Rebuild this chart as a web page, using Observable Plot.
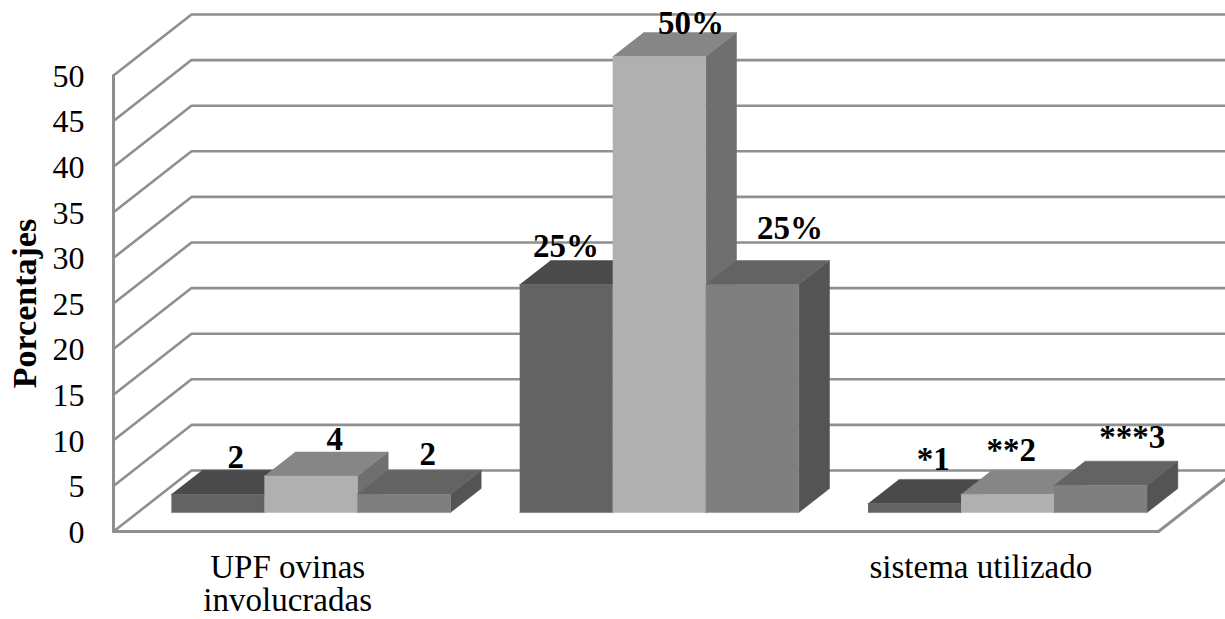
<!DOCTYPE html>
<html lang="es">
<head>
<meta charset="utf-8">
<title>Porcentajes</title>
<script src="https://cdn.jsdelivr.net/npm/d3@7"></script>
<script src="https://cdn.jsdelivr.net/npm/@observablehq/plot@0.6"></script>
<style>
  html, body { margin: 0; padding: 0; background: #fff; overflow: hidden; }
  svg { display: block; }
</style>
</head>
<body>
<div id="chart"></div>
<script>
// Values of the three clusters, one array per series
const serie1 = [2, 25, 1];
const serie2 = [4, 50, 2];
const serie3 = [2, 25, 3];
const etiquetas1 = ["2", "25%", "*1"];
const etiquetas2 = ["4", "50%", "**2"];
const etiquetas3 = ["2", "25%", "***3"];
const categorias = ["UPF ovinas\ninvolucradas", "", "sistema utilizado"];
const centrosCategoria = [0.5, 1.5, 2.49];
const marcasY = [0, 5, 10, 15, 20, 25, 30, 35, 40, 45, 50];

// Shades per series: front, top, side
const tonos = [
  { front: "#636363", top: "#4a4a4a", side: "#545454" },
  { front: "#b0b0b0", top: "#868686", side: "#6f6f6f" },
  { front: "#7f7f7f", top: "#636363", side: "#545454" }
];

// Oblique projection: depth z (0 front, 1 back wall) shifts a point in data units
const pxX = 1045 / 3, pxY = 456 / 50;
const fondoX = 78 / pxX, fondoY = 61 / pxY;
const proj = (x, v, z) => ({ x: x + z * fondoX, y: v + z * fondoY });

// Bar footprint inside a category
const zFrente = 0.31, zAtras = 0.705;
const margenGrupo = 0.0967, anchoBarra = 93 / pxX;

const series = [serie1, serie2, serie3];
const etiquetas = [etiquetas1, etiquetas2, etiquetas3];

// Label nudges in px from the centre of each bar's back top edge, by series then category
const ajusteDx = [[-13, -31, -12], [-7, 1, -27], [-7, 7, 1]];
const ajusteDy = [[-2, -3, -9], [-2, 2, -9], [-5, -21, -13]];

const caras = [];
const rotulos = [];
categorias.forEach((_, g) => {
  series.forEach((valores, s) => {
    const v = valores[g];
    const x0 = g + margenGrupo + s * anchoBarra;
    const x1 = x0 + anchoBarra;
    const tono = tonos[s];
    const id = `${g}-${s}`;
    const cara = (nombre, fill, puntos) =>
      puntos.forEach((p) => caras.push({ id: `${id}-${nombre}`, fill, ...p }));
    cara("side", tono.side, [proj(x1, 0, zFrente), proj(x1, 0, zAtras), proj(x1, v, zAtras), proj(x1, v, zFrente)]);
    cara("top", tono.top, [proj(x0, v, zFrente), proj(x1, v, zFrente), proj(x1, v, zAtras), proj(x0, v, zAtras)]);
    cara("front", tono.front, [proj(x0, 0, zFrente), proj(x1, 0, zFrente), proj(x1, v, zFrente), proj(x0, v, zFrente)]);
    const c = proj((x0 + x1) / 2, v, zAtras);
    rotulos.push({
      x: c.x + ajusteDx[s][g] / pxX,
      y: c.y - ajusteDy[s][g] / pxY,
      text: etiquetas[s][g]
    });
  });
});

// Wall grid: each level runs from the front edge to the back wall, then along it
const rejilla = marcasY.flatMap((v) => [
  { id: v, ...proj(0, v, 0) },
  { id: v, ...proj(0, v, 1) },
  { id: v, ...proj(3, v, 1) }
]);
const contorno = [
  proj(0, 50, 0), proj(0, 0, 0), proj(3, 0, 0), proj(3, 0, 1)
];

const gris = "#8f8f8f";

const grafico = Plot.plot({
  width: 1225,
  height: 619,
  marginLeft: 113,
  marginRight: 67,
  marginTop: 75,
  marginBottom: 88,
  style: { fontFamily: "'Liberation Serif', serif", background: "#fff", color: "#000" },
  x: { domain: [0, 3] },
  y: { domain: [0, 50] },
  marks: [
    Plot.line(rejilla, { x: "x", y: "y", z: "id", stroke: gris, strokeWidth: 2.6 }),
    Plot.line(contorno, { x: "x", y: "y", stroke: gris, strokeWidth: 3 }),
    Plot.line(caras, { x: "x", y: "y", z: "id", fill: "fill", stroke: "fill", strokeWidth: 0.5 }),
    Plot.axisY({ ticks: marcasY, tickSize: 0, tickPadding: 29, fontSize: 32, label: null, dy: 1 }),
    Plot.axisX({
      ticks: centrosCategoria,
      tickFormat: (d) => categorias[Math.floor(d)],
      tickSize: 0,
      tickPadding: 23,
      fontSize: 33,
      lineHeight: 1,
      label: null
    }),
    Plot.text(rotulos, {
      x: "x", y: "y", text: "text",
      fontSize: 33, fontWeight: "bold", fill: "#000",
      textAnchor: "middle", lineAnchor: "bottom"
    }),
    Plot.text(["Porcentajes"], {
      frameAnchor: "left", dx: -88, rotate: -90, textAnchor: "middle",
      fontSize: 34, fontWeight: "bold", fill: "#000"
    })
  ]
});
document.getElementById("chart").appendChild(grafico);
</script>
</body>
</html>
